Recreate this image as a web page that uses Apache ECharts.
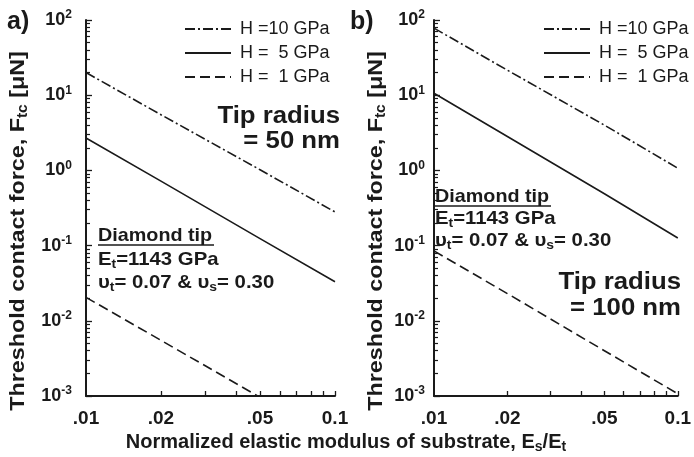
<!DOCTYPE html>
<html>
<head>
<meta charset="utf-8">
<script src="https://cdn.jsdelivr.net/npm/echarts@6/dist/echarts.min.js"></script>
<style>
  html, body { margin: 0; padding: 0; background: #fff; }
  #chart { width: 694px; height: 457px; }
</style>
</head>
<body>
<div id="chart"></div>
<script>
// Normalized substrate modulus Es/Et at which the curves are evaluated
const modulusRatio = [0.01, 0.02, 0.05, 0.1];

// Threshold contact force [uN], tip radius 50 nm
const r50H10 = [20, 5.5, 1.02, 0.28];
const r50H5 = [2.7, 0.72, 0.124, 0.033];
const r50H1 = [0.0205, 0.0055, 0.00096, 0.00026];

// Threshold contact force [uN], tip radius 100 nm
const r100H10 = [78, 21.5, 4.0, 1.07];
const r100H5 = [10.6, 2.82, 0.49, 0.126];
const r100H1 = [0.085, 0.023, 0.004, 0.00107];

const seriesNames = ['H =10 GPa', 'H =  5 GPa', 'H =  1 GPa'];

// Axis ticks and labels
const xLabelValues = [0.01, 0.02, 0.05, 0.1];
const xLabelText = ['.01', '.02', '.05', '0.1'];
const xTickValues = [0.02, 0.03, 0.04, 0.05, 0.06, 0.07, 0.08, 0.09, 0.1];
const yDecades = [0.001, 0.01, 0.1, 1, 10, 100];
const yMinorTicks = [];
for (let e = -3; e < 2; e++) {
  for (let m = 2; m <= 9; m++) yMinorTicks.push(+(m * Math.pow(10, e)).toPrecision(3));
}

const X_MIN = 0.01, X_MAX = 0.1, Y_MIN = 0.001, Y_MAX = 100;

const FONT = '"Liberation Sans", Arial, sans-serif';
const INK = '#1a1a1a';

const pairs = ys => modulusRatio.map((x, i) => [x, ys[i]]);

const dashDot = [10, 3, 2, 3];
const dashed = [10, 5];
const styles = [
  { type: dashDot, width: 1.6 },
  { type: 'solid', width: 1.6 },
  { type: dashed, width: 1.6 }
];

function lineSeries(name, ys, idx, styleIdx) {
  return {
    type: 'line',
    name: name,
    xAxisIndex: idx,
    yAxisIndex: idx * 2,
    data: pairs(ys),
    symbol: 'none',
    showSymbol: false,
    clip: true,
    silent: true,
    lineStyle: Object.assign({ color: INK }, styles[styleIdx]),
    itemStyle: { color: INK }
  };
}

function xAxisFor(gridIndex) {
  return {
    type: 'log',
    gridIndex: gridIndex,
    min: X_MIN,
    max: X_MAX,
    logBase: 10,
    axisLine: { show: true, lineStyle: { color: INK, width: 2 } },
    axisTick: { show: true, inside: true, length: 5, customValues: xTickValues, lineStyle: { color: INK, width: 1.3 } },
    axisLabel: {
      show: true,
      customValues: xLabelValues,
      margin: 13,
      fontFamily: FONT,
      fontWeight: 'bold',
      fontSize: 19,
      color: INK,
      formatter: v => {
        const i = xLabelValues.findIndex(t => Math.abs(t - v) < 1e-9);
        return i >= 0 ? xLabelText[i] : '';
      }
    },
    splitLine: { show: false }
  };
}

function yAxisFor(gridIndex, margin) {
  return {
    type: 'log',
    gridIndex: gridIndex,
    position: 'left',
    min: Y_MIN,
    max: Y_MAX,
    logBase: 10,
    axisLine: { show: true, lineStyle: { color: INK, width: 2 } },
    axisTick: { show: true, inside: true, length: 6, customValues: yDecades, lineStyle: { color: INK, width: 1.3 } },
    axisLabel: {
      show: true,
      customValues: yDecades,
      margin: margin,
      color: INK,
      formatter: v => '{b|10}{s|' + Math.round(Math.log10(v)) + '}',
      rich: {
        b: { fontFamily: FONT, fontWeight: 'bold', fontSize: 18, lineHeight: 20, color: INK },
        s: { fontFamily: FONT, fontWeight: 'bold', fontSize: 12, lineHeight: 12, padding: [0, 0, 10, 0], color: INK }
      }
    },
    splitLine: { show: false }
  };
}

// Companion axis carrying the 2..9 minor ticks of each decade
function yMinorAxisFor(gridIndex) {
  return {
    type: 'log',
    gridIndex: gridIndex,
    position: 'left',
    offset: 0,
    min: Y_MIN,
    max: Y_MAX,
    logBase: 10,
    axisLine: { show: false },
    axisLabel: { show: false },
    axisTick: { show: true, inside: true, length: 4, customValues: yMinorTicks, lineStyle: { color: INK, width: 1.2 } },
    splitLine: { show: false }
  };
}

const noteRich = {
  m: { fontFamily: FONT, fontWeight: 'bold', fontSize: 19, lineHeight: 22, fill: INK },
  s: { fontFamily: FONT, fontWeight: 'bold', fontSize: 13, lineHeight: 14, padding: [9, 0, 0, 0], fill: INK }
};

function richText(x, y, text) {
  return {
    type: 'text',
    x: x,
    y: y,
    silent: true,
    scaleX: 1.07,
    style: {
      text: text,
      fill: INK,
      align: 'left',
      verticalAlign: 'middle',
      rich: noteRich
    }
  };
}

function plainText(x, y, text, size, align, scaleX) {
  return {
    type: 'text',
    x: x,
    y: y,
    silent: true,
    scaleX: scaleX || 1,
    style: {
      text: text,
      fill: INK,
      font: 'bold ' + size + 'px ' + FONT,
      align: align || 'left',
      verticalAlign: 'middle'
    }
  };
}

function diamondNote(x, y0, y1, y2, underlineWidth) {
  return [
    plainText(x, y0, 'Diamond tip', 19, 'left', 1.04),
    {
      type: 'line', silent: true,
      shape: { x1: x, y1: y0 + 9, x2: x + underlineWidth, y2: y0 + 9 },
      style: { stroke: INK, lineWidth: 1.5 }
    },
    richText(x, y1, '{m|E}{s|t}{m|=1143 GPa}'),
    richText(x, y2, '{m|υ}{s|t}{m|= 0.07 & υ}{s|s}{m|= 0.30}')
  ];
}

const yTitle = '{m|Threshold contact force, F}{s|tc}{m| [μN]}';
const titleRich = {
  m: { fontFamily: FONT, fontWeight: 'bold', fontSize: 21, lineHeight: 24, fill: INK },
  s: { fontFamily: FONT, fontWeight: 'bold', fontSize: 14, lineHeight: 15, padding: [10, 0, 0, 0], fill: INK }
};
const xTitleRich = {
  m: { fontFamily: FONT, fontWeight: 'bold', fontSize: 20, lineHeight: 23, fill: INK },
  s: { fontFamily: FONT, fontWeight: 'bold', fontSize: 14, lineHeight: 15, padding: [10, 0, 0, 0], fill: INK }
};

const legendBase = {
  orient: 'vertical',
  top: 15,
  itemWidth: 46,
  itemHeight: 12,
  itemGap: 6,
  selectedMode: false,
  data: seriesNames,
  itemStyle: { color: 'rgba(0,0,0,0)', borderWidth: 0, opacity: 0 },
  textStyle: { fontFamily: FONT, fontSize: 18, color: INK, padding: [0, 0, 0, 4] }
};

const chart = echarts.init(document.getElementById('chart'), null, { renderer: 'canvas' });

chart.setOption({
  backgroundColor: '#ffffff',
  animation: false,
  grid: [
    { left: 86, top: 20, width: 249, height: 376 },
    { left: 434, top: 20, width: 251, height: 376 }
  ],
  xAxis: [xAxisFor(0), xAxisFor(1)],
  yAxis: [yAxisFor(0, 14), yMinorAxisFor(0), yAxisFor(1, 9), yMinorAxisFor(1)],
  legend: [
    Object.assign({ left: 179 }, legendBase),
    Object.assign({ left: 538 }, legendBase)
  ],
  series: [
    lineSeries(seriesNames[0], r50H10, 0, 0),
    lineSeries(seriesNames[1], r50H5, 0, 1),
    lineSeries(seriesNames[2], r50H1, 0, 2),
    lineSeries(seriesNames[0], r100H10, 1, 0),
    lineSeries(seriesNames[1], r100H5, 1, 1),
    lineSeries(seriesNames[2], r100H1, 1, 2)
  ],
  graphic: [
    plainText(7, 22, 'a)', 25, 'left'),
    plainText(350, 22, 'b)', 25, 'left'),
    {
      type: 'text', x: 18, y: 231, rotation: Math.PI / 2, scaleX: 1.11, silent: true,
      style: { text: yTitle, rich: titleRich, align: 'center', verticalAlign: 'middle', fill: INK }
    },
    {
      type: 'text', x: 376, y: 231, rotation: Math.PI / 2, scaleX: 1.11, silent: true,
      style: { text: yTitle, rich: titleRich, align: 'center', verticalAlign: 'middle', fill: INK }
    },
    {
      type: 'text', x: 346, y: 442, silent: true,
      style: { text: '{m|Normalized elastic modulus of substrate, E}{s|s}{m|/E}{s|t}', rich: xTitleRich, align: 'center', verticalAlign: 'middle', fill: INK }
    },
    plainText(340, 117, 'Tip radius', 23, 'right', 1.12),
    plainText(340, 142, '= 50 nm', 23, 'right', 1.12),
    plainText(681, 283, 'Tip radius', 23, 'right', 1.12),
    plainText(681, 309, '= 100 nm', 23, 'right', 1.12),
    ...diamondNote(98, 236, 260, 283, 116),
    ...diamondNote(435, 197, 219, 241, 116)
  ]
});
</script>
</body>
</html>
